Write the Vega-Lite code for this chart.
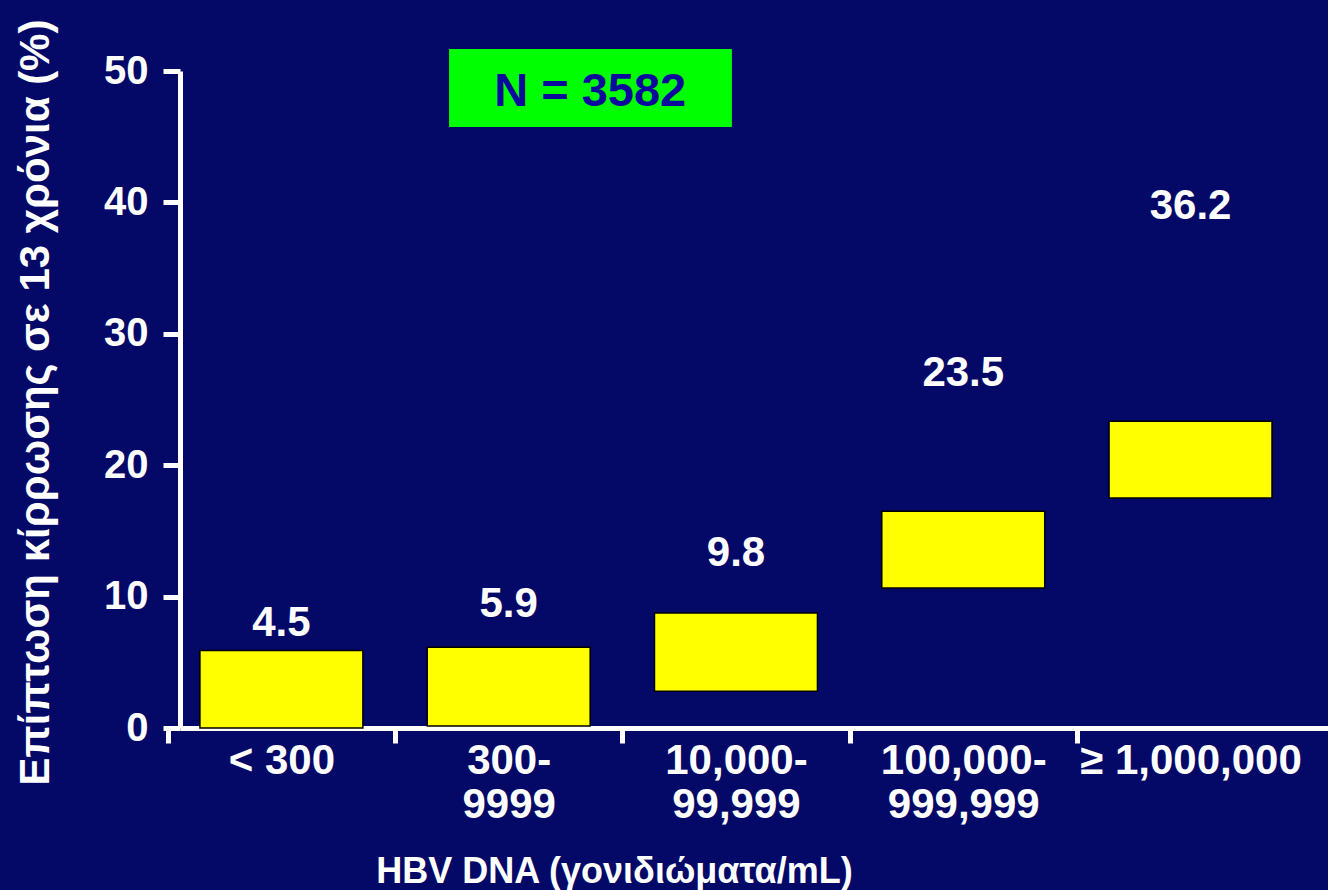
{
  "$schema": "https://vega.github.io/schema/vega-lite/v6.json",
  "width": 1148,
  "height": 657,
  "autosize": "none",
  "padding": {"left": 180, "top": 71, "right": 0, "bottom": 162},
  "background": "#040968",
  "config": {
    "font": "Liberation Sans",
    "view": {"stroke": null}
  },
  "datasets": {
    "groups": [
      {"dna": "< 300", "value": 4.5, "lo": 0, "hi": 5.9},
      {"dna": "300-9999", "value": 5.9, "lo": 0.15, "hi": 6.15},
      {"dna": "10,000-99,999", "value": 9.8, "lo": 2.8, "hi": 8.75},
      {"dna": "100,000-999,999", "value": 23.5, "lo": 10.65, "hi": 16.5},
      {"dna": "≥ 1,000,000", "value": 36.2, "lo": 17.5, "hi": 23.35}
    ],
    "note": [
      {"from": "300-9999", "to": "10,000-99,999", "text": "N = 3582"}
    ]
  },
  "layer": [
    {
      "data": {"name": "groups"},
      "mark": {"type": "bar", "fill": "#ffff00", "stroke": "#000000", "strokeWidth": 1.5},
      "encoding": {
        "x": {
          "field": "dna",
          "type": "nominal",
          "sort": null,
          "scale": {
            "domain": ["< 300", "300-9999", "10,000-99,999", "100,000-999,999", "≥ 1,000,000"],
            "paddingInner": 0.283,
            "paddingOuter": 0.167,
            "align": 0.2625
          },
          "axis": {
            "title": "HBV DNA (γονιδιώματα/mL)",
            "labelAngle": 0,
            "labelExpr": "indexof(datum.label, '-') > 0 ? [slice(datum.label, 0, indexof(datum.label, '-') + 1), slice(datum.label, indexof(datum.label, '-') + 1)] : datum.label",
            "labelColor": "#ffffff",
            "labelFontSize": 42,
            "labelFontWeight": "bold",
            "labelLineHeight": 44,
            "labelLimit": 400,
            "labelPadding": -3,
            "labelOffset": 32,
            "bandPosition": 0,
            "tickOffset": -32,
            "tickExtra": false,
            "domainColor": "#ffffff",
            "domainWidth": 5,
            "tickColor": "#ffffff",
            "tickWidth": 5,
            "tickSize": 15,
            "titleColor": "#ffffff",
            "titleFontSize": 36,
            "titleFontWeight": "bold",
            "titleX": 434,
            "titleY": 154,
            "titleAlign": "center",
            "titleBaseline": "alphabetic"
          }
        },
        "y": {
          "field": "lo",
          "type": "quantitative",
          "scale": {"domain": [0, 50], "nice": false, "zero": false},
          "axis": {
            "title": "Επίπτωση κίρρωσης σε 13 χρόνια (%)",
            "values": [0, 10, 20, 30, 40, 50],
            "grid": false,
            "labelColor": "#ffffff",
            "labelFontSize": 40,
            "labelFontWeight": "bold",
            "labelPadding": 15,
            "domainColor": "#ffffff",
            "domainWidth": 5,
            "tickColor": "#ffffff",
            "tickWidth": 5,
            "tickSize": 17,
            "titleColor": "#ffffff",
            "titleFontSize": 42,
            "titleFontWeight": "bold",
            "titleAngle": -90,
            "titleX": -132,
            "titleY": 331,
            "titleAlign": "center",
            "titleBaseline": "alphabetic"
          }
        },
        "y2": {"field": "hi"}
      }
    },
    {
      "data": {"name": "groups"},
      "mark": {"type": "text", "color": "#ffffff", "fontSize": 42, "fontWeight": "bold", "baseline": "alphabetic", "dy": -33},
      "encoding": {
        "x": {"field": "dna", "type": "nominal", "sort": null},
        "y": {"field": "value", "type": "quantitative", "scale": {"domain": [0, 50], "nice": false, "zero": false}},
        "text": {"field": "value", "type": "quantitative", "format": ".1f"}
      }
    },
    {
      "data": {"name": "note"},
      "mark": {"type": "rect", "fill": "#00ff00"},
      "encoding": {
        "x": {"field": "from", "type": "nominal", "bandPosition": 0.134},
        "x2": {"field": "to", "bandPosition": 0.475},
        "y": {"datum": 45.74, "type": "quantitative", "scale": {"domain": [0, 50], "nice": false, "zero": false}},
        "y2": {"datum": 51.67}
      }
    },
    {
      "data": {"name": "note"},
      "mark": {"type": "text", "color": "#0a0a9c", "fontSize": 47, "fontWeight": "bold", "baseline": "alphabetic", "align": "center"},
      "encoding": {
        "x": {"field": "from", "type": "nominal", "bandPosition": 1},
        "y": {"datum": 47.34, "type": "quantitative", "scale": {"domain": [0, 50], "nice": false, "zero": false}},
        "text": {"field": "text"}
      }
    }
  ]
}
